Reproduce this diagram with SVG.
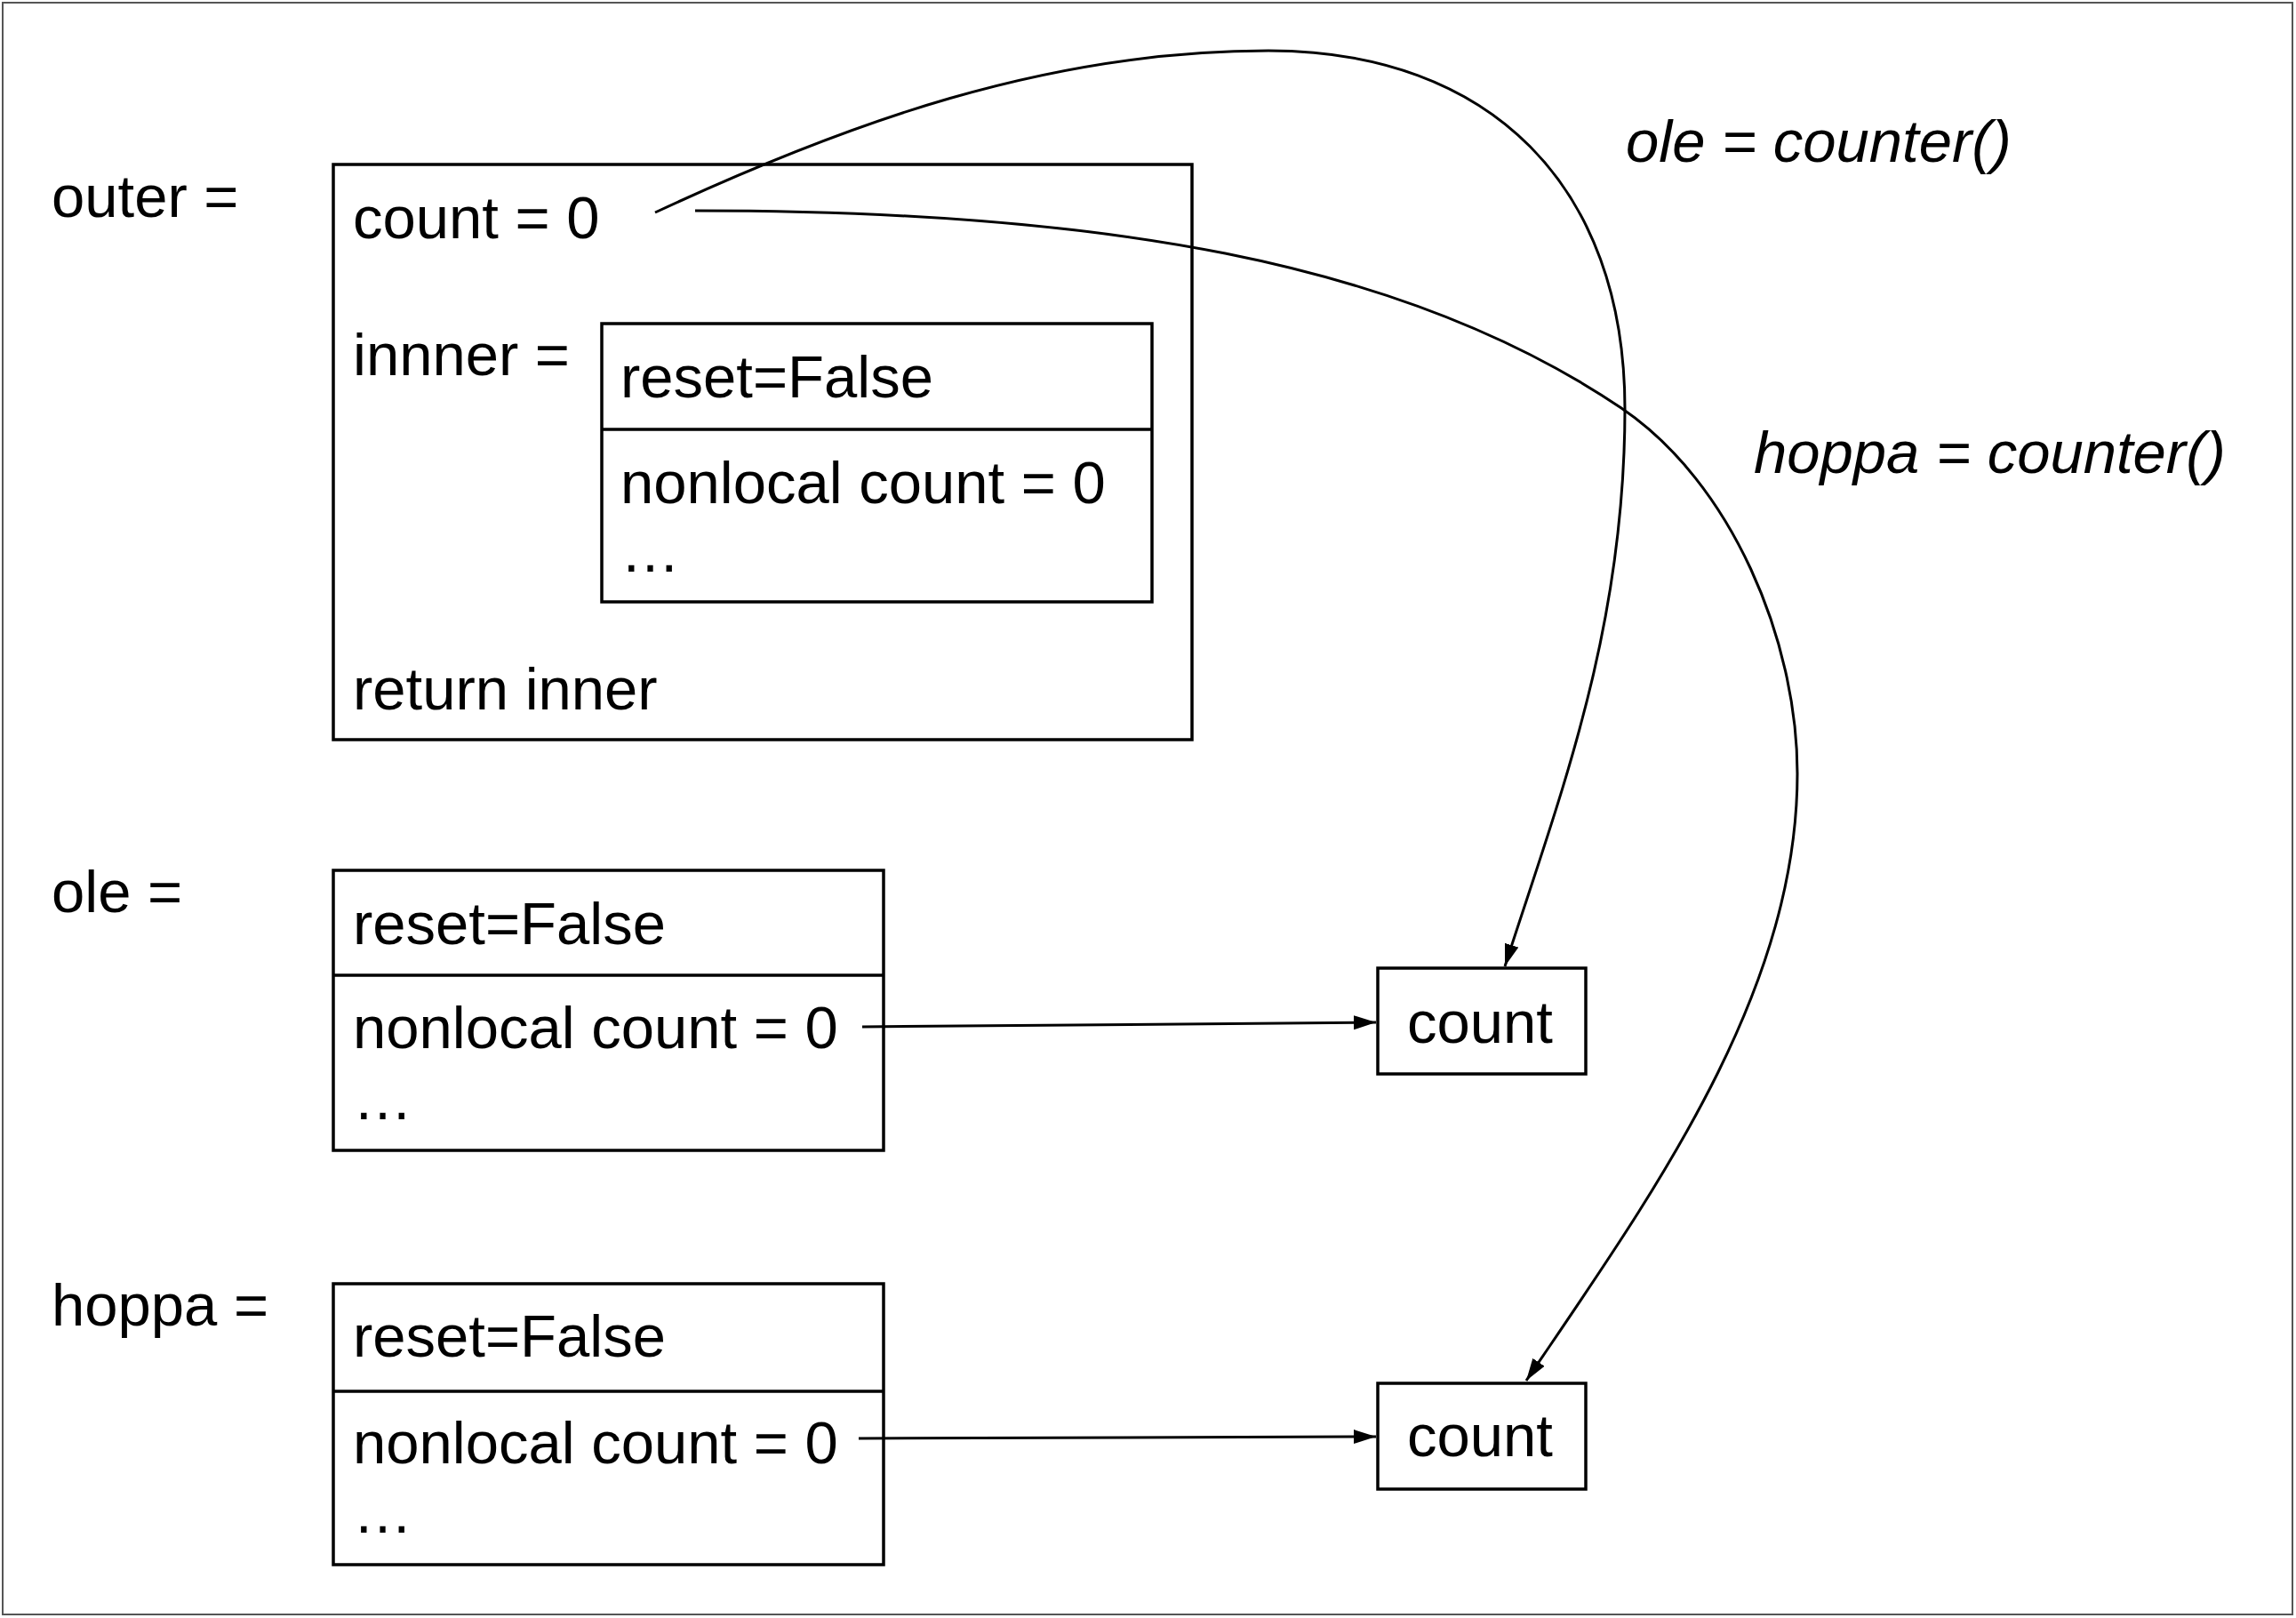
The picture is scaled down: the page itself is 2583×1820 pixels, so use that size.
<svg xmlns="http://www.w3.org/2000/svg" width="2583" height="1820" viewBox="0 0 2583 1820">
<style>
  text { font-family: "Liberation Sans", Arial, Helvetica, sans-serif; font-size: 67px; fill: #000; }
  .it { font-style: italic; }
  .box { fill: #fff; stroke: #000; stroke-width: 3.5; }
  .div { stroke: #000; stroke-width: 3.5; }
  .conn { fill: none; stroke: #000; stroke-width: 3; }
</style>
<defs>
  <marker id="arr" markerUnits="userSpaceOnUse" markerWidth="28" markerHeight="18" refX="25" refY="8" orient="auto">
    <path d="M0,0 L25,8 L0,16 z" fill="#000"/>
  </marker>
</defs>
<rect x="0" y="0" width="2583" height="1820" fill="#fff"/>
<rect id="frame" x="3" y="3" width="2576" height="1813" fill="none" stroke="#555" stroke-width="2"/>

<g id="outer-label"><text x="58" y="244">outer =</text></g>
<g id="outer">
  <rect class="box" x="375" y="185" width="966" height="647"/>
  <text x="397" y="268">count = 0</text>
  <text x="397" y="422">innner =</text>
  <text x="397" y="798">return inner</text>
</g>
<g id="inner">
  <rect class="box" x="677" y="364" width="619" height="313"/>
  <line class="div" x1="677" y1="483" x2="1296" y2="483"/>
  <text x="698" y="447">reset=False</text>
  <text x="698" y="566">nonlocal count = 0</text>
  <text x="698" y="643">…</text>
</g>

<g id="ole-label"><text x="58" y="1026">ole =</text></g>
<g id="ole">
  <rect class="box" x="375" y="979" width="619" height="315"/>
  <line class="div" x1="375" y1="1097" x2="994" y2="1097"/>
  <text x="397" y="1062">reset=False</text>
  <text x="397" y="1179">nonlocal count = 0</text>
  <text x="397" y="1259">…</text>
</g>

<g id="hoppa-label"><text x="58" y="1491">hoppa =</text></g>
<g id="hoppa">
  <rect class="box" x="375" y="1444" width="619" height="316"/>
  <line class="div" x1="375" y1="1565" x2="994" y2="1565"/>
  <text x="397" y="1526">reset=False</text>
  <text x="397" y="1646">nonlocal count = 0</text>
  <text x="397" y="1724">…</text>
</g>

<g id="count1">
  <rect class="box" x="1550" y="1089" width="234" height="119"/>
  <text x="1583" y="1173">count</text>
</g>
<g id="count2">
  <rect class="box" x="1550" y="1556" width="234" height="119"/>
  <text x="1583" y="1638">count</text>
</g>

<g id="label-ole-counter"><text class="it" x="1829" y="182">ole = counter()</text></g>
<g id="label-hoppa-counter"><text class="it" x="1973" y="532">hoppa = counter()</text></g>

<g id="connectors">
  <path class="conn" marker-end="url(#arr)" d="M737,239 C952,139 1177,57 1427,57 C1677,57 1828,210 1828,460 C1828,710 1754,897 1693,1087"/>
  <path class="conn" marker-end="url(#arr)" d="M782,237 C1232,237 1575,291 1824,459 C1948,543 2022,720 2022,870 C2022,1120 1857,1346 1717,1553"/>
  <path class="conn" marker-end="url(#arr)" d="M970,1155 L1548,1150"/>
  <path class="conn" marker-end="url(#arr)" d="M966,1618 L1548,1616"/>
</g>
</svg>
